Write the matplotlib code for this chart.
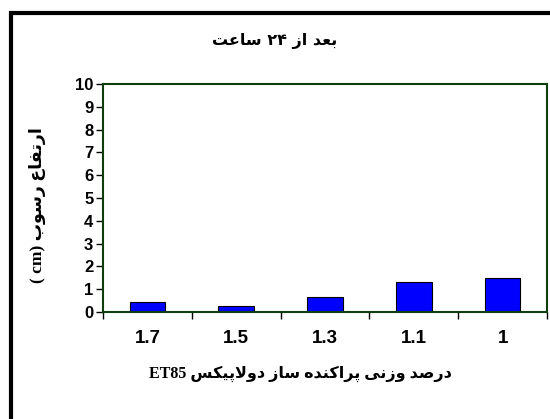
import re
import matplotlib
matplotlib.use('Agg')
import matplotlib.pyplot as plt
from matplotlib.patches import Rectangle

# data
categories = ['1.7', '1.5', '1.3', '1.1', '1']
heights = [0.45, 0.25, 0.65, 1.3, 1.5]
y_ticks = list(range(0, 11))

title_text = 'بعد از ۲۴ ساعت'
xlabel_text = 'درصد وزنی پراکنده ساز دولاپیکس ET85'
ylabel_text = 'ارتفاع رسوب (cm )'

# presentation forms: isolated, final, initial, medial
FORMS = {
    'ا': ('\uFE8D', '\uFE8E'), 'د': ('\uFEA9', '\uFEAA'), 'ر': ('\uFEAD', '\uFEAE'),
    'ز': ('\uFEAF', '\uFEB0'), 'و': ('\uFEED', '\uFEEE'),
    'ب': ('\uFE8F', '\uFE90', '\uFE91', '\uFE92'), 'پ': ('\uFB56', '\uFB57', '\uFB58', '\uFB59'),
    'ت': ('\uFE95', '\uFE96', '\uFE97', '\uFE98'), 'ع': ('\uFEC9', '\uFECA', '\uFECB', '\uFECC'),
    'س': ('\uFEB1', '\uFEB2', '\uFEB3', '\uFEB4'), 'ف': ('\uFED1', '\uFED2', '\uFED3', '\uFED4'),
    'ص': ('\uFEB9', '\uFEBA', '\uFEBB', '\uFEBC'), 'ن': ('\uFEE5', '\uFEE6', '\uFEE7', '\uFEE8'),
    'ی': ('\uFBFC', '\uFBFD', '\uFBFE', '\uFBFF'), 'ک': ('\uFB8E', '\uFB8F', '\uFB90', '\uFB91'),
    'ه': ('\uFEE9', '\uFEEA', '\uFEEB', '\uFEEC'), 'ل': ('\uFEDD', '\uFEDE', '\uFEDF', '\uFEE0'),
}


def shape(s):
    s = s.replace('لا', '\x01')
    out = []
    for i, ch in enumerate(s):
        prev = s[i - 1] if i > 0 else ''
        nxt = s[i + 1] if i + 1 < len(s) else ''
        join_prev = prev in FORMS and len(FORMS[prev]) == 4
        if ch == '\x01':
            out.append('\uFEFC' if join_prev else '\uFEFB')
            continue
        if ch not in FORMS:
            out.append(ch)
            continue
        f = FORMS[ch]
        join_next = len(f) == 4 and (nxt in FORMS or nxt == '\x01')
        if join_prev and join_next:
            out.append(f[3])
        elif join_prev:
            out.append(f[1])
        elif join_next:
            out.append(f[2])
        else:
            out.append(f[0])
    return ''.join(out)


def rtl(s):
    v = shape(s)[::-1]
    v = re.sub(r'[A-Za-z0-9\u06F0-\u06F9]+', lambda m: m.group(0)[::-1], v)
    return v.translate(str.maketrans('()', ')('))


fig = plt.figure(figsize=(5.5, 4.19), dpi=100)
fig.patches.append(Rectangle((11 / 550, -0.1), 1.2, 1 - 13 / 419 + 0.1,
                             transform=fig.transFigure, fill=False,
                             edgecolor='black', linewidth=3))

ax = fig.add_axes([0.1873, 0.2554, 0.8072, 0.5441])
x = list(range(len(categories)))
ax.bar(x, heights, width=0.4, color='#0000FF', edgecolor='black', linewidth=0.8)

ax.set_xlim(-0.5, len(categories) - 0.5)
ax.set_ylim(0, 10)
ax.set_yticks(y_ticks)
ax.set_yticklabels([str(t) for t in y_ticks], fontfamily='Liberation Sans',
                   fontweight='bold', fontsize=12)
ax.set_xticks(x)
ax.set_xticklabels(categories, fontfamily='Liberation Sans', fontweight='bold', fontsize=13.5)
ax.set_xticks([i - 0.5 for i in range(len(categories) + 1)], minor=True)
ax.tick_params(axis='x', which='major', length=0, pad=13)
ax.tick_params(axis='x', which='minor', length=5, width=1, direction='out')
ax.tick_params(axis='y', length=5, width=1, direction='out', pad=2)

for sp in ax.spines.values():
    sp.set_color('#0f3f0f')
    sp.set_linewidth(1.5)

fig.text(0.5, 1 - 41 / 419, rtl(title_text), ha='center', va='center',
         fontfamily='DejaVu Sans', fontweight='bold', fontsize=11.5)
fig.text(300 / 550, 1 - 374 / 419, rtl(xlabel_text), ha='center', va='center',
         fontfamily=['Liberation Serif', 'DejaVu Sans'], fontweight='bold', fontsize=11.5)
fig.text(37 / 550, 1 - 205 / 419, rtl(ylabel_text), ha='center', va='center', rotation=90,
         fontfamily=['Liberation Serif', 'DejaVu Sans'], fontweight='bold', fontsize=12.5)

fig.savefig('out.png', dpi=100)
